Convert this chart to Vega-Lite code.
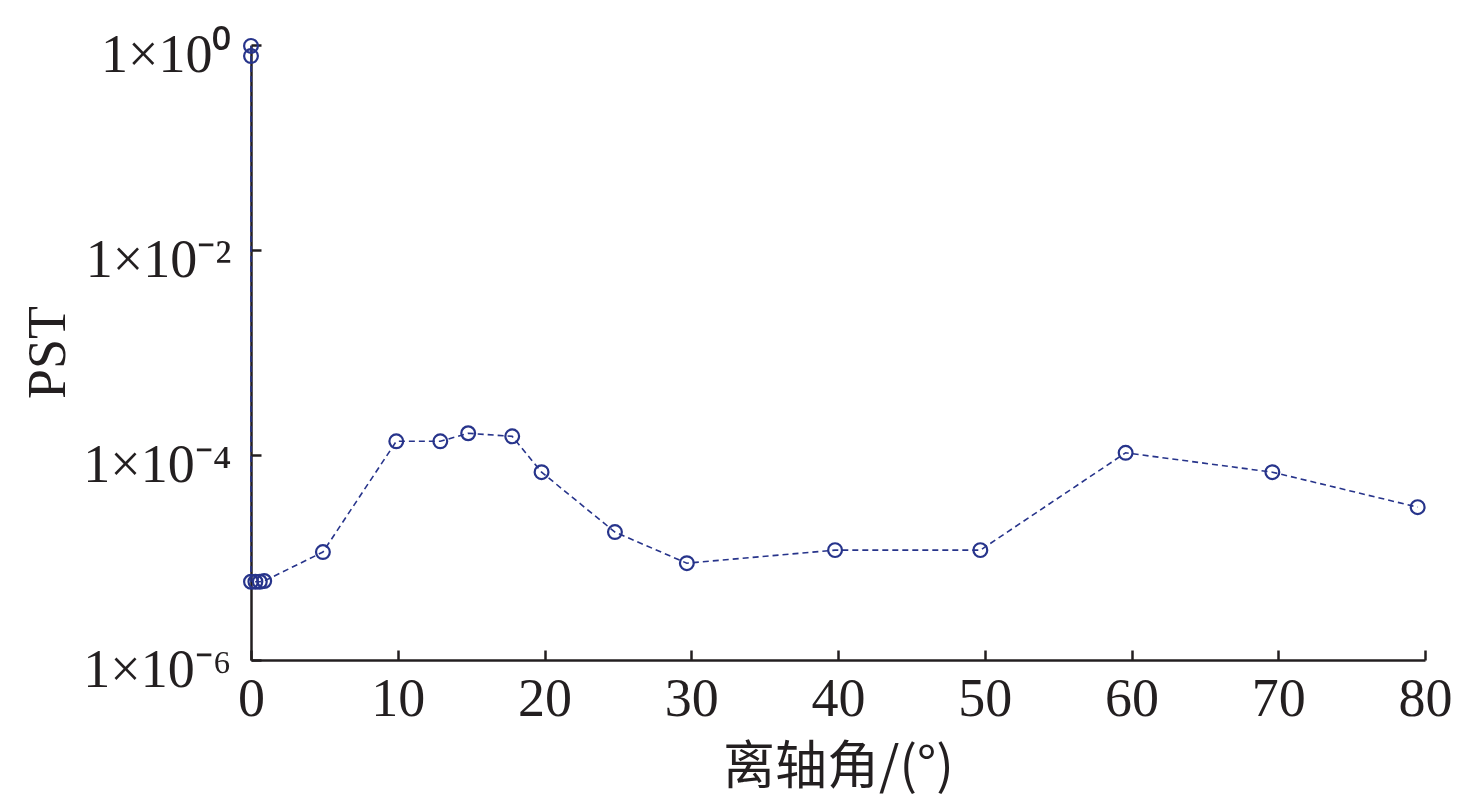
{
  "$schema": "https://vega.github.io/schema/vega-lite/v6.json",
  "autosize": {"type": "none"},
  "width": 1174,
  "height": 615,
  "padding": {"left": 251, "top": 45, "right": 51, "bottom": 148},
  "background": "white",
  "data": {
    "values": [
      {"i": 1, "angle": 0, "pst": 0.98},
      {"i": 2, "angle": 0, "pst": 0.78},
      {"i": 3, "angle": 0, "pst": 5.8e-6},
      {"i": 4, "angle": 0.3, "pst": 5.8e-6},
      {"i": 5, "angle": 0.6, "pst": 5.8e-6},
      {"i": 6, "angle": 0.9, "pst": 5.9e-6},
      {"i": 7, "angle": 4.9, "pst": 1.13e-5},
      {"i": 8, "angle": 9.9, "pst": 1.36e-4},
      {"i": 9, "angle": 12.9, "pst": 1.36e-4},
      {"i": 10, "angle": 14.8, "pst": 1.63e-4},
      {"i": 11, "angle": 17.8, "pst": 1.52e-4},
      {"i": 12, "angle": 19.8, "pst": 6.8e-5},
      {"i": 13, "angle": 24.8, "pst": 1.77e-5},
      {"i": 14, "angle": 29.7, "pst": 8.8e-6},
      {"i": 15, "angle": 39.8, "pst": 1.18e-5},
      {"i": 16, "angle": 49.7, "pst": 1.18e-5},
      {"i": 17, "angle": 59.6, "pst": 1.05e-4},
      {"i": 18, "angle": 69.6, "pst": 6.8e-5},
      {"i": 19, "angle": 79.5, "pst": 3.1e-5}
    ]
  },
  "encoding": {
    "x": {
      "field": "angle",
      "type": "quantitative",
      "scale": {"domain": [0, 80], "nice": false, "zero": false},
      "axis": {
        "title": "离轴角/(°)",
        "titleFont": "Noto Sans CJK SC",
        "titleFontWeight": "normal",
        "titleFontSize": 52,
        "titleColor": "#231f20",
        "titleY": 82,
        "values": [0, 10, 20, 30, 40, 50, 60, 70, 80],
        "labelFont": "Liberation Serif",
        "labelFontSize": 54,
        "labelColor": "#231f20",
        "labelPadding": 22,
        "labelFlush": false,
        "tickSize": -10,
        "tickWidth": 2.5,
        "tickColor": "#231f20",
        "domainColor": "#231f20",
        "domainWidth": 2.5,
        "grid": false
      }
    },
    "y": {
      "field": "pst",
      "type": "quantitative",
      "scale": {"type": "log", "domain": [1e-6, 1], "nice": false},
      "axis": {
        "title": "PST",
        "titleFont": "Liberation Serif",
        "titleFontWeight": "normal",
        "titleFontSize": 54,
        "titleColor": "#231f20",
        "titleX": -176,
        "titleY": 307,
        "values": [1e-6, 1e-4, 1e-2, 1],
        "labelExpr": "datum.value >= 0.5 ? '1×10⁰' : datum.value >= 0.005 ? '1×10⁻²' : datum.value >= 0.00005 ? '1×10⁻⁴' : '1×10⁻⁶'",
        "labelFont": "Liberation Serif",
        "labelFontSize": 54,
        "labelColor": "#231f20",
        "labelPadding": 30,
        "labelOffset": 10,
        "labelFlush": false,
        "tickSize": -10,
        "tickWidth": 2.5,
        "tickColor": "#231f20",
        "domainColor": "#231f20",
        "domainWidth": 2.5,
        "grid": false
      }
    },
    "order": {"field": "i"}
  },
  "layer": [
    {
      "mark": {"type": "line", "color": "#27348b", "strokeWidth": 1.6, "strokeDash": [6, 4]}
    },
    {
      "mark": {"type": "point", "shape": "circle", "filled": false, "color": "#27348b", "size": 190, "strokeWidth": 2.2, "opacity": 1}
    }
  ],
  "config": {"view": {"stroke": null}}
}
